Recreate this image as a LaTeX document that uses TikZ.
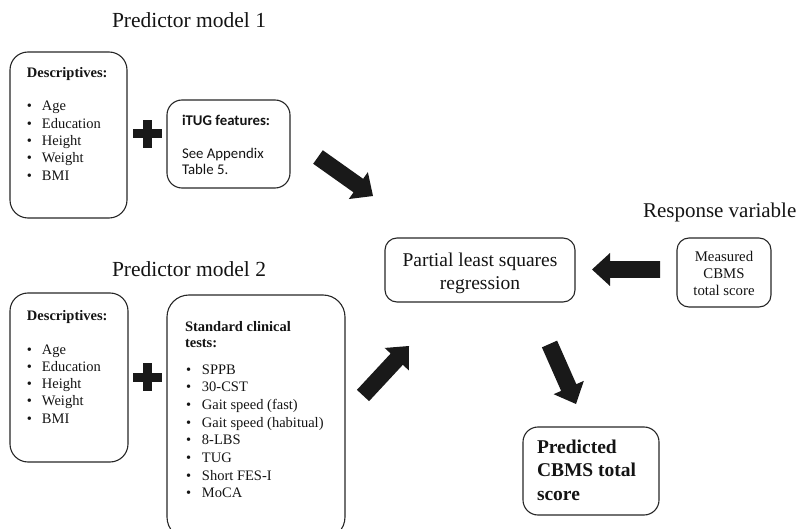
\documentclass[tikz,border=0pt]{standalone}
\usepackage{fontspec}
\setmainfont{Liberation Serif}
\newfontfamily\calfont{Carlito}
\usetikzlibrary{calc}
\newcommand{\setfs}[2]{\fontsize{#1}{#2}\selectfont}
\newcommand{\fatarrow}[2]{%
  \coordinate (hb) at ($(#2)!18pt!(#1)$);
  \fill[fat] ($(#1)!8.3pt!90:(#2)$) -- ($(hb)!8.3pt!90:(#2)$) -- ($(hb)!16.5pt!90:(#2)$) -- (#2)
    -- ($(hb)!16.5pt!-90:(#2)$) -- ($(hb)!8.3pt!-90:(#2)$) -- ($(#1)!8.3pt!-90:(#2)$) -- cycle;}
\begin{document}
\begin{tikzpicture}[x=1pt,y=-1pt,
  box/.style={draw=black!85, line width=1.1pt, rounded corners=#1, inner sep=0pt, outer sep=0pt},
  box/.default=16pt,
  txt/.style={inner sep=0pt, outer sep=0pt, text=black!92},
  fat/.style={fill=black!90},
  title/.style={txt, font=\setfs{21.5}{24}, anchor=base west}]
\useasboundingbox (0,0) rectangle (806,529);

% titles
\node[title] (t1) at (112,28) {Predictor model 1};
\node[title] (t2) at (112,277) {Predictor model 2};
\node[txt, font=\setfs{21}{24}, anchor=base west] (t3) at (643,218) {Response variable};

% boxes
\node[box=18pt, minimum width=117pt, minimum height=166pt] (desc1) at (68.5,135) {};
\node[box=15pt, minimum width=123pt, minimum height=88pt] (itug) at (228.5,144) {};
\node[box=18pt, minimum width=118pt, minimum height=169pt] (desc2) at (69,377.5) {};
\node[box=22pt, minimum width=178pt, minimum height=244pt] (std) at (256,417) {};
\node[box=12pt, minimum width=190pt, minimum height=64pt] (pls) at (480,270) {};
\node[box=12pt, minimum width=94pt, minimum height=69pt] (meas) at (724,272.5) {};
\node[box=15pt, minimum width=136pt, minimum height=88pt] (pred) at (591,471) {};

% descriptives 1
\node[txt, font=\setfs{14.5}{17.3}\bfseries, anchor=base west] (d1h) at (27,77.7) {Descriptives:};
\node[txt, font=\setfs{14.5}{17.3}, anchor=base west] (d1l) at (27,111) {%
  \begin{tabular}[t]{@{}p{15pt}@{}l@{}}
  \textbullet & Age\\ \textbullet & Education\\ \textbullet & Height\\ \textbullet & Weight\\ \textbullet & BMI
  \end{tabular}};

% iTUG
\node[txt, font=\calfont\setfs{14.8}{16}\bfseries, anchor=base west] (ith) at (182,126) {iTUG features:};
\node[txt, font=\calfont\setfs{14.8}{16}, anchor=base west] (itl) at (182,159) {%
  \begin{tabular}[t]{@{}l@{}}See Appendix\\ Table 5.\end{tabular}};

% descriptives 2
\node[txt, font=\setfs{14.5}{17.3}\bfseries, anchor=base west] (d2h) at (27,320) {Descriptives:};
\node[txt, font=\setfs{14.5}{17.3}, anchor=base west] (d2l) at (27,354) {%
  \begin{tabular}[t]{@{}p{15pt}@{}l@{}}
  \textbullet & Age\\ \textbullet & Education\\ \textbullet & Height\\ \textbullet & Weight\\ \textbullet & BMI
  \end{tabular}};

% standard clinical tests
\node[txt, font=\setfs{14.5}{16.3}\bfseries, anchor=base west] (sh) at (185,331.7) {%
  \begin{tabular}[t]{@{}l@{}}Standard clinical\\ tests:\end{tabular}};
\node[txt, font=\setfs{14.5}{17.7}, anchor=base west] (sl) at (186,374) {%
  \begin{tabular}[t]{@{}p{16pt}@{}l@{}}
  \textbullet & SPPB\\ \textbullet & 30-CST\\ \textbullet & Gait speed (fast)\\ \textbullet & Gait speed (habitual)\\
  \textbullet & 8-LBS\\ \textbullet & TUG\\ \textbullet & Short FES-I\\ \textbullet & MoCA
  \end{tabular}};

% PLS
\node[txt, font=\setfs{19.5}{23}, anchor=base] (plst) at (480,266.5) {%
  \begin{tabular}[t]{@{}c@{}}Partial least squares\\ regression\end{tabular}};
% measured
\node[txt, font=\setfs{14.8}{16.7}, anchor=base] (meast) at (724,261.7) {%
  \begin{tabular}[t]{@{}c@{}}Measured\\ CBMS\\ total score\end{tabular}};
% predicted
\node[txt, font=\setfs{19.5}{23.4}\bfseries, anchor=base west] (predt) at (537,453.3) {%
  \begin{tabular}[t]{@{}l@{}}Predicted\\ CBMS total\\ score\end{tabular}};

% plus signs
\fill[fat] (132.5,129.5) rectangle (161.5,138.5);
\fill[fat] (142.5,120) rectangle (151.5,148);
\fill[fat] (132.5,372.5) rectangle (161.5,381.5);
\fill[fat] (142.5,363) rectangle (151.5,391);

% fat arrows
\coordinate (a1s) at (318,157); \coordinate (a1e) at (373,196);
\coordinate (a2s) at (363,395.5); \coordinate (a2e) at (409,346);
\coordinate (a3s) at (660,269.5); \coordinate (a3e) at (592,269.5);
\coordinate (a4s) at (549.5,344); \coordinate (a4e) at (576,404);
\fatarrow{a1s}{a1e}
\fatarrow{a2s}{a2e}
\fatarrow{a3s}{a3e}
\fatarrow{a4s}{a4e}
\end{tikzpicture}
\end{document}
